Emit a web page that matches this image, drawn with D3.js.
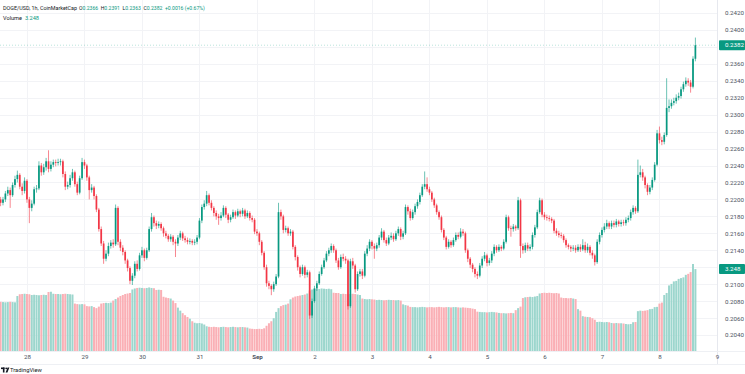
<!DOCTYPE html>
<html>
<head>
<meta charset="utf-8">
<script src="https://cdn.jsdelivr.net/npm/d3@7"></script>
<style>
html, body { margin: 0; padding: 0; background: #fff; }
svg { display: block; font-family: Roboto, "Noto Sans", sans-serif; }
</style>
</head>
<body>
<svg id="chart" width="745" height="374"></svg>
<script>
"use strict"

// DOGE/USD 1h candles, Aug 27 13:00 -> Sep 8 15:00 (one value per hour)
const firstOpen = 0.2200;
const close = [
0.2196,0.2200,0.2207,0.2211,0.2205,0.2217,0.2224,0.2229,0.2215,0.2210,
0.2222,0.2200,0.2190,0.2195,0.2212,0.2213,0.2240,0.2232,0.2238,0.2245,
0.2236,0.2241,0.2244,0.2243,0.2244,0.2245,0.2230,0.2215,0.2217,0.2225,
0.2232,0.2218,0.2208,0.2225,0.2244,0.2240,0.2226,0.2211,0.2214,0.2204,
0.2188,0.2165,0.2148,0.2130,0.2136,0.2145,0.2149,0.2147,0.2190,0.2150,
0.2143,0.2138,0.2128,0.2119,0.2104,0.2110,0.2124,0.2118,0.2134,0.2140,
0.2131,0.2140,0.2165,0.2179,0.2172,0.2169,0.2171,0.2166,0.2160,0.2157,
0.2153,0.2156,0.2150,0.2148,0.2155,0.2160,0.2154,0.2152,0.2150,0.2151,
0.2149,0.2150,0.2155,0.2175,0.2191,0.2195,0.2205,0.2196,0.2190,0.2184,
0.2180,0.2178,0.2181,0.2190,0.2182,0.2176,0.2179,0.2185,0.2181,0.2186,
0.2183,0.2187,0.2180,0.2184,0.2178,0.2176,0.2162,0.2160,0.2150,0.2137,
0.2120,0.2101,0.2098,0.2094,0.2100,0.2109,0.2185,0.2180,0.2164,0.2166,
0.2160,0.2162,0.2144,0.2132,0.2120,0.2112,0.2120,0.2111,0.2114,0.2063,
0.2080,0.2095,0.2101,0.2112,0.2120,0.2128,0.2136,0.2140,0.2145,0.2140,
0.2128,0.2120,0.2132,0.2130,0.2128,0.2074,0.2127,0.2122,0.2094,0.2112,
0.2115,0.2110,0.2136,0.2142,0.2150,0.2145,0.2142,0.2146,0.2155,0.2162,
0.2152,0.2148,0.2155,0.2157,0.2153,0.2160,0.2165,0.2156,0.2160,0.2191,
0.2186,0.2178,0.2185,0.2192,0.2197,0.2205,0.2215,0.2218,0.2212,0.2208,
0.2200,0.2193,0.2185,0.2179,0.2164,0.2155,0.2144,0.2150,0.2146,0.2152,
0.2158,0.2156,0.2162,0.2160,0.2140,0.2130,0.2123,0.2118,0.2112,0.2110,
0.2122,0.2130,0.2134,0.2125,0.2128,0.2136,0.2144,0.2140,0.2144,0.2142,
0.2150,0.2179,0.2166,0.2165,0.2168,0.2166,0.2199,0.2145,0.2140,0.2146,
0.2142,0.2144,0.2158,0.2167,0.2185,0.2199,0.2182,0.2179,0.2178,0.2177,
0.2175,0.2163,0.2160,0.2158,0.2157,0.2152,0.2146,0.2144,0.2142,0.2143,
0.2140,0.2144,0.2141,0.2146,0.2140,0.2144,0.2137,0.2134,0.2126,0.2150,
0.2158,0.2164,0.2168,0.2172,0.2168,0.2172,0.2170,0.2174,0.2171,0.2173,
0.2172,0.2176,0.2178,0.2185,0.2190,0.2186,0.2229,0.2232,0.2226,0.2217,
0.2209,0.2214,0.2223,0.2241,0.2278,0.2270,0.2268,0.2276,0.2308,0.2310,
0.2314,0.2316,0.2320,0.2322,0.2330,0.2336,0.2340,0.2338,0.2333,0.2366,0.2382
];
const high = [
0.2203,0.2203,0.2210,0.2215,0.2214,0.2220,0.2228,0.2234,0.2231,0.2219,
0.2226,0.2224,0.2203,0.2199,0.2215,0.2217,0.2245,0.2243,0.2242,0.2249,
0.2258,0.2245,0.2247,0.2247,0.2248,0.2248,0.2247,0.2233,0.2221,0.2229,
0.2236,0.2234,0.2221,0.2228,0.2249,0.2247,0.2242,0.2228,0.2218,0.2216,
0.2206,0.2190,0.2168,0.2151,0.2140,0.2149,0.2152,0.2153,0.2194,0.2192,
0.2153,0.2146,0.2140,0.2130,0.2121,0.2113,0.2127,0.2128,0.2137,0.2144,
0.2142,0.2143,0.2168,0.2184,0.2181,0.2175,0.2174,0.2173,0.2168,0.2163,
0.2159,0.2159,0.2158,0.2153,0.2158,0.2163,0.2162,0.2157,0.2155,0.2154,
0.2153,0.2153,0.2158,0.2178,0.2194,0.2199,0.2210,0.2207,0.2199,0.2192,
0.2187,0.2183,0.2185,0.2193,0.2192,0.2184,0.2182,0.2188,0.2187,0.2189,
0.2188,0.2190,0.2189,0.2187,0.2186,0.2181,0.2178,0.2165,0.2162,0.2152,
0.2139,0.2123,0.2104,0.2100,0.2103,0.2112,0.2196,0.2188,0.2182,0.2169,
0.2168,0.2165,0.2164,0.2146,0.2134,0.2122,0.2123,0.2122,0.2117,0.2116,
0.2083,0.2098,0.2104,0.2115,0.2123,0.2131,0.2139,0.2143,0.2148,0.2147,
0.2142,0.2131,0.2135,0.2136,0.2133,0.2130,0.2130,0.2131,0.2124,0.2115,
0.2118,0.2118,0.2139,0.2146,0.2153,0.2152,0.2148,0.2149,0.2158,0.2166,
0.2164,0.2155,0.2158,0.2161,0.2160,0.2163,0.2168,0.2167,0.2163,0.2194,
0.2193,0.2189,0.2188,0.2195,0.2200,0.2208,0.2218,0.2233,0.2226,0.2215,
0.2210,0.2202,0.2195,0.2187,0.2181,0.2166,0.2157,0.2153,0.2152,0.2155,
0.2161,0.2161,0.2166,0.2165,0.2162,0.2142,0.2132,0.2125,0.2120,0.2115,
0.2125,0.2133,0.2138,0.2136,0.2131,0.2139,0.2147,0.2146,0.2147,0.2146,
0.2153,0.2182,0.2181,0.2169,0.2171,0.2170,0.2203,0.2201,0.2148,0.2149,
0.2149,0.2147,0.2161,0.2170,0.2188,0.2202,0.2201,0.2185,0.2182,0.2181,
0.2179,0.2177,0.2166,0.2163,0.2161,0.2159,0.2154,0.2148,0.2146,0.2146,
0.2146,0.2147,0.2147,0.2153,0.2150,0.2148,0.2146,0.2140,0.2136,0.2153,
0.2161,0.2167,0.2172,0.2176,0.2174,0.2175,0.2175,0.2177,0.2176,0.2176,
0.2176,0.2179,0.2181,0.2188,0.2193,0.2192,0.2247,0.2240,0.2236,0.2228,
0.2219,0.2217,0.2226,0.2244,0.2282,0.2286,0.2274,0.2279,0.2343,0.2318,
0.2318,0.2320,0.2324,0.2326,0.2333,0.2339,0.2344,0.2343,0.2341,0.2369,0.2391
];
const low = [
0.2192,0.2193,0.2197,0.2204,0.2190,0.2203,0.2214,0.2220,0.2212,0.2205,
0.2207,0.2196,0.2172,0.2186,0.2193,0.2208,0.2211,0.2228,0.2229,0.2234,
0.2232,0.2233,0.2238,0.2239,0.2240,0.2240,0.2226,0.2211,0.2212,0.2214,
0.2222,0.2215,0.2205,0.2206,0.2223,0.2236,0.2222,0.2200,0.2208,0.2200,
0.2185,0.2162,0.2145,0.2124,0.2127,0.2133,0.2142,0.2143,0.2145,0.2146,
0.2139,0.2134,0.2124,0.2115,0.2100,0.2099,0.2107,0.2115,0.2116,0.2131,
0.2127,0.2129,0.2138,0.2162,0.2168,0.2165,0.2166,0.2163,0.2156,0.2154,
0.2150,0.2150,0.2146,0.2132,0.2145,0.2152,0.2151,0.2149,0.2147,0.2147,
0.2146,0.2146,0.2147,0.2153,0.2172,0.2188,0.2192,0.2193,0.2187,0.2180,
0.2176,0.2170,0.2175,0.2179,0.2178,0.2172,0.2173,0.2177,0.2177,0.2179,
0.2179,0.2180,0.2177,0.2178,0.2175,0.2173,0.2159,0.2157,0.2146,0.2134,
0.2117,0.2097,0.2094,0.2087,0.2091,0.2098,0.2107,0.2176,0.2160,0.2161,
0.2157,0.2157,0.2141,0.2128,0.2116,0.2108,0.2110,0.2107,0.2108,0.2059,
0.2060,0.2078,0.2092,0.2099,0.2110,0.2118,0.2126,0.2133,0.2137,0.2137,
0.2125,0.2117,0.2118,0.2127,0.2124,0.2070,0.2072,0.2118,0.2090,0.2092,
0.2109,0.2106,0.2108,0.2133,0.2139,0.2141,0.2130,0.2139,0.2143,0.2152,
0.2149,0.2145,0.2146,0.2152,0.2150,0.2151,0.2157,0.2152,0.2153,0.2158,
0.2182,0.2175,0.2176,0.2182,0.2189,0.2194,0.2203,0.2212,0.2209,0.2205,
0.2197,0.2190,0.2182,0.2176,0.2161,0.2152,0.2141,0.2142,0.2143,0.2144,
0.2150,0.2153,0.2154,0.2157,0.2137,0.2126,0.2119,0.2114,0.2108,0.2106,
0.2108,0.2119,0.2127,0.2121,0.2122,0.2125,0.2133,0.2137,0.2138,0.2139,
0.2140,0.2148,0.2163,0.2156,0.2162,0.2163,0.2164,0.2131,0.2136,0.2137,
0.2139,0.2139,0.2141,0.2155,0.2165,0.2183,0.2179,0.2176,0.2175,0.2174,
0.2172,0.2160,0.2157,0.2155,0.2154,0.2149,0.2143,0.2141,0.2138,0.2139,
0.2137,0.2138,0.2138,0.2139,0.2137,0.2137,0.2134,0.2130,0.2122,0.2124,
0.2147,0.2155,0.2161,0.2165,0.2165,0.2165,0.2167,0.2167,0.2168,0.2168,
0.2169,0.2169,0.2173,0.2175,0.2182,0.2183,0.2184,0.2226,0.2222,0.2213,
0.2205,0.2206,0.2211,0.2221,0.2239,0.2266,0.2264,0.2265,0.2274,0.2303,
0.2307,0.2311,0.2313,0.2317,0.2319,0.2327,0.2333,0.2334,0.2326,0.2331,0.2363
];
// volume, billions
const volume = [
1.95,1.94,1.93,1.94,1.95,1.94,1.93,2.18,2.25,2.26,
2.27,2.26,2.25,2.22,2.23,2.22,2.21,2.22,2.23,2.22,
2.34,2.35,2.27,2.26,2.26,2.25,2.26,2.27,2.26,2.25,
2.24,1.88,1.86,1.85,1.86,1.85,1.78,1.77,1.78,1.74,
1.70,1.76,1.88,1.90,1.91,1.90,1.92,2.00,2.06,2.12,
2.18,2.22,2.26,2.28,2.30,2.44,2.48,2.50,2.51,2.50,
2.49,2.50,2.52,2.50,2.49,2.42,2.43,2.42,2.15,2.12,
2.10,2.08,2.00,1.90,1.72,1.60,1.50,1.42,1.35,1.28,
1.18,1.12,1.10,1.11,1.09,1.05,0.98,0.96,0.95,0.96,
0.95,0.94,0.95,0.96,0.95,0.94,0.95,0.96,0.95,0.94,
0.95,0.95,0.94,0.93,0.89,0.88,0.87,0.87,0.88,0.87,
0.90,1.00,1.10,1.18,1.30,1.55,1.70,1.78,1.82,1.84,
1.88,2.05,2.12,2.16,2.18,2.20,2.22,2.24,2.28,2.40,
2.44,2.46,2.47,2.46,2.48,2.47,2.46,2.47,2.45,2.31,
2.30,2.30,2.26,2.27,2.26,2.25,2.26,2.27,2.26,2.24,
2.22,2.08,2.06,2.05,2.06,2.05,2.04,2.02,2.03,2.02,
2.01,2.02,2.03,2.02,2.02,2.01,2.02,2.00,1.85,1.82,
1.80,1.75,1.74,1.74,1.73,1.74,1.75,1.74,1.73,1.74,
1.74,1.73,1.74,1.75,1.74,1.73,1.74,1.74,1.73,1.74,
1.74,1.73,1.72,1.73,1.72,1.71,1.70,1.68,1.66,1.56,
1.55,1.54,1.54,1.53,1.54,1.55,1.54,1.53,1.51,1.50,
1.50,1.49,1.50,1.51,1.50,1.62,1.70,1.76,2.10,2.13,
2.14,2.15,2.14,2.16,2.18,2.28,2.30,2.31,2.30,2.31,
2.30,2.29,2.30,2.28,2.12,2.10,2.10,2.09,2.10,2.08,
2.06,1.66,1.60,1.38,1.36,1.35,1.34,1.30,1.24,1.15,
1.16,1.15,1.14,1.15,1.14,1.11,1.10,1.11,1.10,1.10,
1.09,1.07,1.06,1.07,1.14,1.15,1.58,1.60,1.59,1.60,
1.62,1.66,1.67,1.74,1.75,1.88,1.92,2.22,2.30,2.60,
2.66,2.76,2.78,2.86,2.89,2.92,3.02,3.06,3.13,3.45,3.248
];

const priceTicks = [0.2040,0.2060,0.2080,0.2100,0.2120,0.2140,0.2160,0.2180,0.2200,0.2220,
  0.2240,0.2260,0.2280,0.2300,0.2320,0.2340,0.2360,0.2380,0.2400,0.2420];
const dayLabels = ["28","29","30","31","Sep","2","3","4","5","6","7","8","9"];
const dayDates = ["2025-08-28","2025-08-29","2025-08-30","2025-08-31","2025-09-01","2025-09-02",
  "2025-09-03","2025-09-04","2025-09-05","2025-09-06","2025-09-07","2025-09-08","2025-09-09"];

const legendLabels = ["O","H","L","C"];
const legendValues = ["0.2366","0.2391","0.2363","0.2382"];
const legendChange = "+0.0016 (+0.67%)";
const volumeLabel = "3.248";

const upColor = "#089981", downColor = "#f23645";
const upVol = "#9cd6cd", downVol = "#faafb5";
const textColor = "#131722", axisText = "#4c525e", gridColor = "#f2f3f6";

const svg = d3.select("#chart");
const plotRight = 717, plotBottom = 351;

const N = Math.min(close.length, high.length, low.length, volume.length);
const t0 = Date.UTC(2025, 7, 27, 13);
const candles = d3.range(N).map(i => ({
    t: new Date(t0 + i * 3600e3),
    o: i ? close[i - 1] : firstOpen,
    h: high[i], l: low[i], c: close[i], v: volume[i]
}));

const x = d3.scaleUtc().domain([candles[0].t, candles[N - 1].t]).range([0.6, 695.4]);
const y = d3.scaleLinear().domain([0.2040, 0.2420]).range([335, 13]);
const yVol = d3.scaleLinear().domain([0, d3.max(volume)]).range([plotBottom, 264]);
const days = dayDates.map(d => new Date(d + "T00:00:00Z"));

svg.append("defs").append("clipPath").attr("id", "plotclip")
    .append("rect").attr("x", 0).attr("y", 0).attr("width", plotRight).attr("height", plotBottom);

// grid
const grid = svg.append("g").attr("clip-path", "url(#plotclip)");
grid.selectAll("line.h").data(priceTicks).join("line").attr("class", "h")
    .attr("x1", 0).attr("x2", plotRight)
    .attr("y1", d => Math.round(y(d)) + 0.5).attr("y2", d => Math.round(y(d)) + 0.5)
    .attr("stroke", gridColor).attr("stroke-width", 1);
grid.selectAll("line.v").data(days).join("line").attr("class", "v")
    .attr("x1", d => Math.round(x(d)) + 0.5).attr("x2", d => Math.round(x(d)) + 0.5)
    .attr("y1", 0).attr("y2", plotBottom)
    .attr("stroke", gridColor).attr("stroke-width", 1);

// volume
const plot = svg.append("g").attr("clip-path", "url(#plotclip)");
plot.append("g").selectAll("rect").data(candles).join("rect")
    .attr("x", d => x(d.t) - 1.0)
    .attr("width", 2.0)
    .attr("y", d => yVol(d.v))
    .attr("height", d => plotBottom - yVol(d.v))
    .attr("fill", d => d.c >= d.o ? upVol : downVol);

// last price line
plot.append("line")
    .attr("x1", 0).attr("x2", plotRight)
    .attr("y1", y(close[N - 1])).attr("y2", y(close[N - 1]))
    .attr("stroke", upColor).attr("stroke-opacity", 0.35)
    .attr("stroke-width", 0.8).attr("stroke-dasharray", "1,2");

// candles
const cg = plot.append("g").selectAll("g").data(candles).join("g");
cg.append("line")
    .attr("x1", d => x(d.t)).attr("x2", d => x(d.t))
    .attr("y1", d => y(Math.max(d.h, d.o, d.c)))
    .attr("y2", d => y(Math.min(d.l, d.o, d.c)))
    .attr("stroke", d => d.c >= d.o ? upColor : downColor)
    .attr("stroke-width", 0.6);
cg.append("rect")
    .attr("x", d => x(d.t) - 0.85)
    .attr("width", 1.7)
    .attr("y", d => y(Math.max(d.o, d.c)))
    .attr("height", d => Math.max(0.8, Math.abs(y(d.o) - y(d.c))))
    .attr("fill", d => d.c >= d.o ? upColor : downColor);

// axes borders
svg.append("line").attr("x1", plotRight + 0.5).attr("x2", plotRight + 0.5)
    .attr("y1", 0).attr("y2", 364).attr("stroke", "#e6e8ee");
svg.append("line").attr("x1", 0).attr("x2", 745)
    .attr("y1", plotBottom + 0.5).attr("y2", plotBottom + 0.5).attr("stroke", "#eef0f4");
svg.append("line").attr("x1", 0).attr("x2", 745)
    .attr("y1", 364.5).attr("y2", 364.5).attr("stroke", "#eef0f4");

// value boxes sit on the price scale and hide the tick labels under them
const boxYs = [y(close[N - 1]), yVol(volume[N - 1])];

// price axis
const yAxis = svg.append("g").attr("transform", `translate(${plotRight + 1},0)`)
    .call(d3.axisRight(y).tickValues(priceTicks).tickFormat(d3.format(".4f")).tickSize(0).tickPadding(7));
yAxis.select(".domain").remove();
yAxis.selectAll(".tick").filter(d => boxYs.some(b => Math.abs(y(d) - b) < 8)).remove();
yAxis.selectAll("text").attr("font-size", 6.2).attr("fill", axisText)
    .attr("font-family", "Roboto, sans-serif");

// time axis
const xAxis = svg.append("g").attr("transform", `translate(0,${plotBottom})`)
    .call(d3.axisBottom(x).tickValues(days).tickFormat((d, i) => dayLabels[i]).tickSize(0).tickPadding(3.5));
xAxis.select(".domain").remove();
xAxis.selectAll("text").attr("font-size", 6.2).attr("fill", axisText)
    .attr("font-family", "Roboto, sans-serif")
    .attr("font-weight", (d, i) => dayLabels[i] === "Sep" ? 700 : 400);

function valueBox(yy, label) {
    svg.append("rect").attr("x", plotRight + 2).attr("y", yy - 5).attr("width", 26).attr("height", 10)
        .attr("rx", 1).attr("fill", upColor);
    svg.append("text").attr("x", plotRight + 8).attr("y", yy).attr("dy", "0.35em")
        .attr("font-size", 6.2).attr("fill", "#fff").text(label);
}
valueBox(boxYs[0], legendValues[3]);
valueBox(boxYs[1], volumeLabel);

// legend
svg.append("text").attr("x", 3).attr("y", 10)
    .attr("font-size", 5.4).attr("fill", textColor)
    .text("DOGE/USD, 1h, CoinMarketCap");
const lg = svg.append("text").attr("x", 79).attr("y", 10)
    .attr("font-size", 5.1).attr("fill", textColor);
legendLabels.forEach((lab, i) => {
    lg.append("tspan").attr("dx", i ? 2.5 : 0).text(lab);
    lg.append("tspan").attr("fill", upColor).text(legendValues[i]);
});
lg.append("tspan").attr("dx", 2.5).attr("fill", upColor).text(legendChange);

const lv = svg.append("text").attr("x", 3).attr("y", 20)
    .attr("font-size", 5.6).attr("fill", textColor);
lv.append("tspan").text("Volume");
lv.append("tspan").attr("dx", 3).attr("fill", upColor).text(volumeLabel);

// watermark
const wm = svg.append("g").attr("transform", "translate(1,366)");
wm.append("rect").attr("x", 0).attr("y", 1.5).attr("width", 3.5).attr("height", 1.6).attr("fill", textColor);
wm.append("rect").attr("x", 1.9).attr("y", 1.5).attr("width", 1.6).attr("height", 5).attr("fill", textColor);
wm.append("circle").attr("cx", 5.2).attr("cy", 2.3).attr("r", 0.9).attr("fill", textColor);
wm.append("path").attr("d", "M6.6,1.5 L8.4,1.5 L6.4,6.5 L4.6,6.5 Z").attr("fill", textColor);
svg.append("text").attr("x", 10).attr("y", 372).attr("font-size", 5.8)
    .attr("fill", textColor).text("TradingView");
</script>
</body>
</html>
